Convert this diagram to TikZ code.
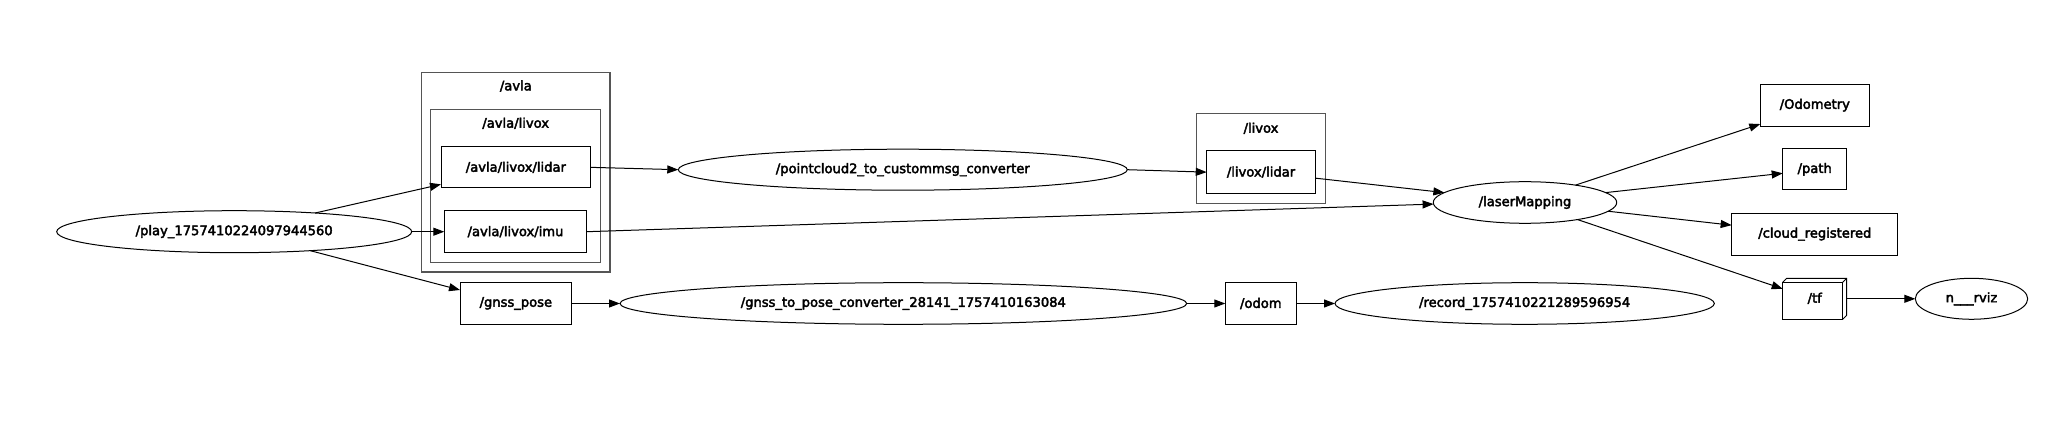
\documentclass[tikz,border=0pt]{standalone}
\usepackage{fontspec}
\setmainfont{DejaVu Sans}
\newfontfamily\gvfont{DejaVu Sans}[FakeBold=3]
\usetikzlibrary{arrows.meta,shapes.geometric}
\definecolor{clustercol}{HTML}{555555}
\begin{document}
\begin{tikzpicture}[x=1pt,y=-1pt,
  every node/.style={inner sep=0pt, outer sep=0pt, font=\gvfont\fontsize{13.1}{15}\selectfont},
  ell/.style={draw, ellipse, line width=1pt},
  topic/.style={draw, rectangle, line width=1pt},
  cluster/.style={draw=clustercol, rectangle, line width=1.1pt},
  edge/.style={line width=1pt, -{Triangle[length=11pt,width=8pt]}}
]
\useasboundingbox (0,0) rectangle (2046,446);

% clusters
\node[cluster, minimum width=188.3pt, minimum height=199.7pt] (cavla) at (515.85,172.15) {};
\node (cavlalabel) at (515.85,86) {/avla};
\node[cluster, minimum width=170pt, minimum height=153.4pt] (clivoxa) at (515.7,186) {};
\node (clivoxalabel) at (515.7,123.3) {/avla/livox};
\node[cluster, minimum width=128.6pt, minimum height=90pt] (clivox) at (1261,158.3) {};
\node (clivoxlabel) at (1261,128.3) {/livox};

% nodes
\node[ell, minimum width=355pt, minimum height=42pt] (play) at (234.2,231.7) {/play\_1757410224097944560};
\node[topic, minimum width=149.7pt, minimum height=41.3pt] (alidar) at (515.85,167.35) {/avla/livox/lidar};
\node[topic, minimum width=142.4pt, minimum height=42pt] (imu) at (515.5,231.7) {/avla/livox/imu};
\node[topic, minimum width=111.7pt, minimum height=41.6pt] (gnss) at (515.85,303.5) {/gnss\_pose};
\node[ell, minimum width=449pt, minimum height=41pt] (pc) at (902.8,169.7) {/pointcloud2\_to\_custommsg\_converter};
\node[ell, minimum width=566.7pt, minimum height=41.6pt] (g2p) at (903.35,303.5) {/gnss\_to\_pose\_converter\_28141\_1757410163084};
\node[topic, minimum width=108.6pt, minimum height=42.3pt] (llidar) at (1261,172.15) {/livox/lidar};
\node[topic, minimum width=71pt, minimum height=41.6pt] (odom) at (1260.8,303.5) {/odom};
\node[ell, minimum width=183.4pt, minimum height=41.6pt] (lm) at (1525,202.5) {/laserMapping};
\node[ell, minimum width=379.3pt, minimum height=41.6pt] (rec) at (1524.7,303.5) {/record\_1757410221289596954};
\node[topic, minimum width=109pt, minimum height=41.7pt] (odo) at (1814.8,105.2) {/Odometry};
\node[topic, minimum width=64pt, minimum height=41.3pt] (path) at (1814.7,169.3) {/path};
\node[topic, minimum width=166.3pt, minimum height=41.7pt] (cloud) at (1814.8,234.2) {/cloud\_registered};
\node[topic, minimum width=60pt, minimum height=37pt] (tf) at (1812.7,300.8) {};
\node (tflabel) at (1814.7,298.3) {/tf};
\draw[line width=1pt] (tf.north west) -- ++(4,-4) -- ++(60,0) -- ++(0,37) -- ++(-4,4);
\draw[line width=1pt] (tf.north east) -- ++(4,-4);
\node[ell, minimum width=112.4pt, minimum height=41pt] (rviz) at (1971.5,298.8) {n\_\_\_rviz};

% edges
\draw[edge] (play.13) -- ([yshift=-17pt]alidar.west);
\draw[edge] (play.east) -- (imu.west);
\draw[edge] (play.-14) -- ([yshift=13.5pt]gnss.west);
\draw[edge] (alidar.east) -- (pc.west);
\draw[edge] (pc.east) -- (llidar.west);
\draw[edge] ([yshift=-6pt]llidar.east) -- (lm.173);
\draw[edge] (imu.east) -- (lm.181);
\draw[edge] (gnss.east) -- (g2p.west);
\draw[edge] (g2p.east) -- (odom.west);
\draw[edge] (odom.east) -- (rec.west);
\draw[edge] (lm.19) -- ([yshift=2pt]odo.south west);
\draw[edge] (lm.7) -- ([yshift=-4pt]path.west);
\draw[edge] (lm.-6) -- ([yshift=9pt]cloud.west);
\draw[edge] (lm.-18) -- ([yshift=12pt]tf.west);
\draw[edge] ([xshift=4pt,yshift=2pt]tf.east) -- (rviz.west);
\end{tikzpicture}
\end{document}
